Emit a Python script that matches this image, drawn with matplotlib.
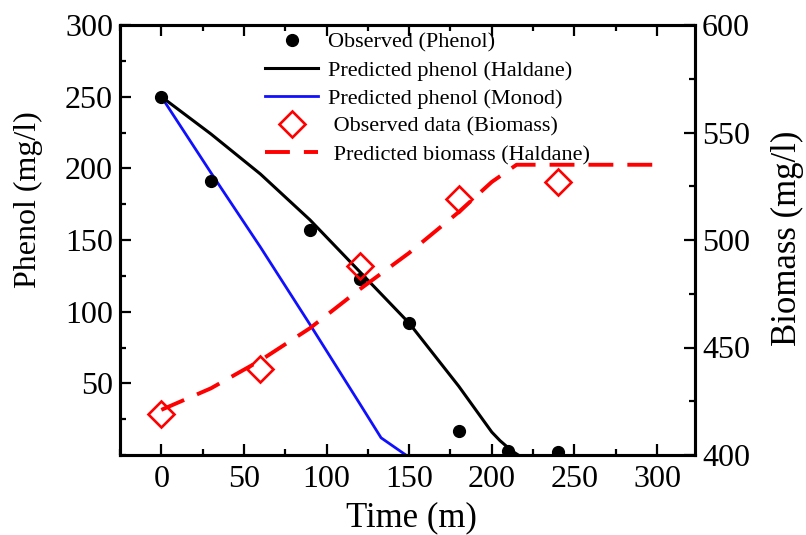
import matplotlib
matplotlib.use("Agg")
import matplotlib.pyplot as plt
from matplotlib.ticker import MultipleLocator

plt.rcParams["font.family"] = ["Liberation Serif", "DejaVu Serif"]

# observed phenol (mg/l)
t_obs = [0, 30, 90, 120, 150, 180, 210, 240]
phenol_obs = [250, 191, 157, 123, 92, 17, 3, 2]

# Haldane model, phenol
t_hal = [0, 30, 60, 90, 120, 150, 180, 200, 205, 212, 216]
phenol_hal = [250, 224, 196, 164, 128, 92, 48, 16, 10, 3, 0]

# Monod model, phenol
t_mon = [0, 30, 60, 90, 120, 133, 148]
phenol_mon = [250, 197, 145, 91, 36, 12, 0]

# observed biomass (mg/l)
t_bio = [0, 60, 120, 180, 240]
biomass_obs = [419, 440, 488, 519, 527]

# Haldane model, biomass
t_bio_pred = [0, 30, 60, 90, 120, 150, 180, 200, 215, 300]
biomass_pred = [421, 431, 444, 459, 477, 494, 513, 527, 535, 535]

fig = plt.figure(figsize=(8.06, 5.35), dpi=100)
ax = fig.add_axes([120 / 806, 1 - 455 / 535, 575 / 806, 430 / 535])
ax2 = ax.twinx()

l1, = ax.plot(t_obs, phenol_obs, "o", color="black", ms=8.5, ls="none",
              label="Observed (Phenol)", zorder=4)
l2, = ax.plot(t_hal, phenol_hal, "-", color="black", lw=2.2,
              label="Predicted phenol (Haldane)")
l3, = ax.plot(t_mon, phenol_mon, "-", color="#1010ff", lw=2.0,
              label="Predicted phenol (Monod)")
l4, = ax2.plot(t_bio, biomass_obs, "D", mfc="none", mec="red", mew=1.9, ms=13.5,
               ls="none", label=" Observed data (Biomass)")
l5, = ax2.plot(t_bio_pred, biomass_pred, color="red", lw=2.8,
               ls=(0, (6.4, 3.6)), label=" Predicted biomass (Haldane)")

ax.set_xlim(-25, 323)
ax.set_ylim(0, 300)
ax2.set_ylim(400, 600)

ax.set_xticks([0, 50, 100, 150, 200, 250, 300])
ax.set_yticks([50, 100, 150, 200, 250, 300])
ax.xaxis.set_minor_locator(MultipleLocator(25))
ax.yaxis.set_minor_locator(MultipleLocator(25))
ax2.set_yticks([400, 450, 500, 550, 600])
ax2.yaxis.set_minor_locator(MultipleLocator(25))

ax.tick_params(axis="x", which="both", direction="in", top=True, labelsize=23, pad=7)
ax.tick_params(axis="y", which="both", direction="in", right=False, labelsize=23, pad=5)
ax2.tick_params(axis="y", which="both", direction="in", labelsize=23, pad=5)
for a in (ax, ax2):
    a.tick_params(which="major", length=8, width=1.6)
    a.tick_params(which="minor", length=4.5, width=1.6)
    for s in a.spines.values():
        s.set_linewidth(2.2)

fig.text(28 / 806, 1 - 200 / 535, "Phenol (mg/l)", rotation=90,
         ha="center", va="center", fontsize=23)
fig.text(787 / 806, 1 - 238 / 535, "Biomass (mg/l)", rotation=90,
         ha="center", va="center", fontsize=25)
fig.text(411 / 806, 1 - 518 / 535, "Time (m)", ha="center", va="center", fontsize=25)

ax2.legend(handles=[l1, l2, l3, l4, l5], loc="upper left",
           bbox_to_anchor=(265 / 806, 1 - 32 / 535), bbox_transform=fig.transFigure,
           frameon=False, fontsize=16, numpoints=1, handlelength=2.4,
           handletextpad=0.45, labelspacing=0.34, borderpad=0, borderaxespad=0)

fig.savefig("out.png", dpi=100)
